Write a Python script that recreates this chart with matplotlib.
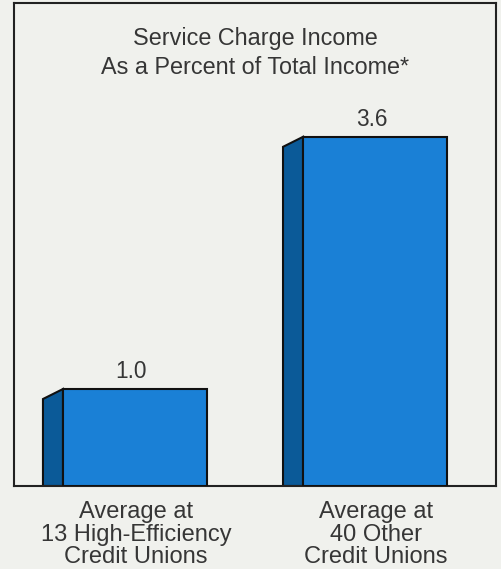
import matplotlib
matplotlib.use("Agg")
import matplotlib.pyplot as plt
from matplotlib.patches import Polygon

categories = ["Average at\n13 High-Efficiency\nCredit Unions", "Average at\n40 Other\nCredit Unions"]
values = [1.0, 3.6]
value_labels = ["1.0", "3.6"]
title_lines = ["Service Charge Income", "As a Percent of Total Income*"]

front_color = "#1a80d6"
side_color = "#0b5a98"
paper = "#f0f1ed"
text_color = "#363636"

plt.rcParams['font.family'] = ['Liberation Sans', 'DejaVu Sans']

fig = plt.figure(figsize=(5.01, 5.69), dpi=100, facecolor=paper)
W, H = 501, 569
ax = fig.add_axes([14 / W, 1 - 486 / H, (496 - 14) / W, (486 - 3) / H])
ax.set_facecolor(paper)
ax.set_xlim(-0.504, 1.504)
ax.set_ylim(0, 4.98)

bar_w = 0.6
depth_x = 20 / 240
depth_y = 10 / 97
xs = list(range(len(values)))
ax.bar(xs, values, width=bar_w, color=front_color, edgecolor="#111111", linewidth=1.5, zorder=3)
for x, v, lab in zip(xs, values, value_labels):
    left = x - bar_w / 2
    side = Polygon([(left, 0), (left, v), (left - depth_x, v - depth_y), (left - depth_x, 0)],
                   closed=True, facecolor=side_color, edgecolor="#111111", linewidth=1.5, zorder=2)
    ax.add_patch(side)
    ax.text(x - 0.015, v + 0.11, lab, ha="center", va="baseline", fontsize=16.3, color=text_color)

cat_baselines_px = [518, 541, 563]
for x, c in zip(xs, categories):
    xf = ax.transData.transform((x + 0.005, 0))[0] / W
    for line, yb in zip(c.split("\n"), cat_baselines_px):
        fig.text(xf, 1 - yb / H, line, ha="center", va="baseline", fontsize=17, color=text_color)

for line, yb in zip(title_lines, [45, 74]):
    fig.text(255.5 / W, 1 - yb / H, line, ha="center", va="baseline", fontsize=16.8, color=text_color)

ax.set_xticks([])
ax.set_yticks([])
for s in ax.spines.values():
    s.set_linewidth(1.5)
    s.set_color("#222222")

fig.savefig("out.png", dpi=100, facecolor=paper)
